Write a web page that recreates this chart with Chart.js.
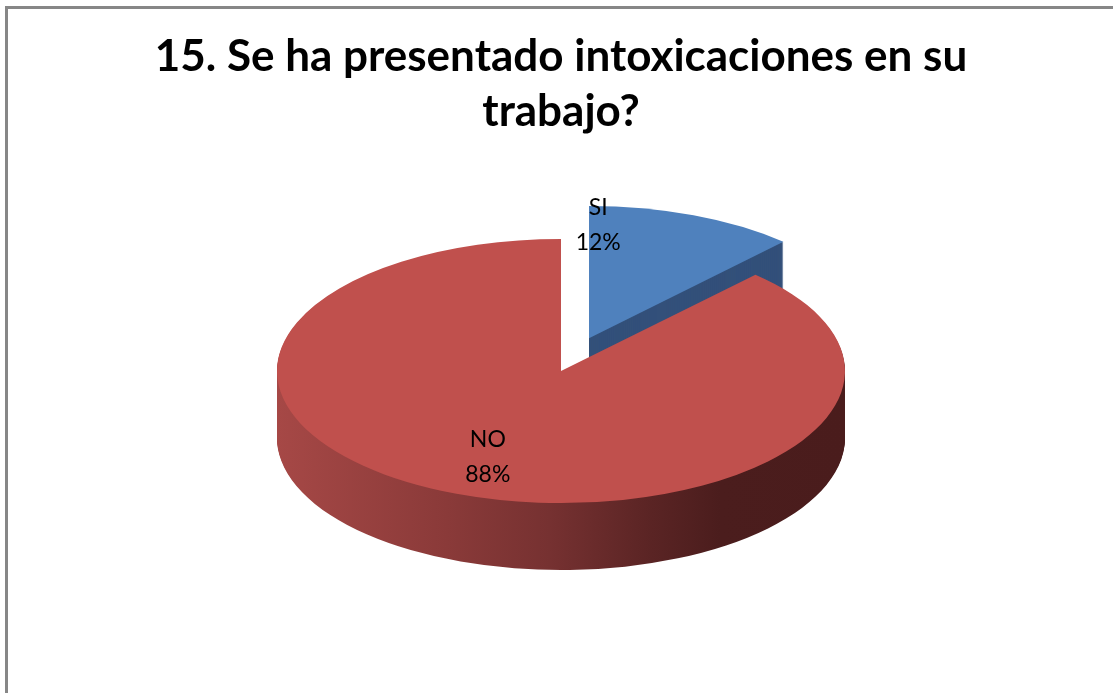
<!DOCTYPE html>
<html>
<head>
<meta charset="utf-8">
<title>Intoxicaciones</title>
<script src="https://cdn.jsdelivr.net/npm/chart.js@4.4.0/dist/chart.umd.min.js"></script>
<style>
	html, body { margin: 0; padding: 0; background: #fff; }
	#wrap { position: relative; width: 1113px; height: 693px; overflow: hidden; }
	#frame { position: absolute; left: 5px; top: 6px; width: 1200px; height: 800px;
		border-left: 3px solid #878787; border-top: 3px solid #878787; }
	#pieChart { position: absolute; left: 0; top: 0; }
</style>
</head>
<body>
<div id="wrap">
	<div id="frame"></div>
	<canvas id="pieChart" width="1113" height="693"></canvas>
</div>
<script>
var categories = ['SI', 'NO'];
var percents = [12, 88];
var titleLines = ['15. Se ha presentado intoxicaciones en su', 'trabajo?'];

var topColors = ['#4f81bd', '#c0504d'];
var sideColors = ['#33507a', null];

// fake 3d look: squash the pie, stack darker copies under it
var pie3d = {
	id : 'pie3d',
	beforeDatasetsDraw : function(chart, args, opts) {
		var ctx = chart.ctx;
		var arcs = chart.getDatasetMeta(0).data;

		function project(arc, i, d) {
			var mid = (arc.startAngle + arc.endAngle) / 2;
			var ex = Math.cos(mid) * opts.explode[i];
			var ey = Math.sin(mid) * opts.explode[i];
			ctx.translate(0, arc.y - opts.lift + d);
			ctx.scale(1, opts.tilt);
			ctx.translate(ex, ey - arc.y);
		}

		function sideFill(arc, i) {
			if (sideColors[i]) {
				return sideColors[i];
			}
			var r = arc.outerRadius;
			var g = ctx.createLinearGradient(arc.x - r, 0, arc.x + r, 0);
			g.addColorStop(0, '#a64846');
			g.addColorStop(0.3, '#8a3a39');
			g.addColorStop(0.48, '#763131');
			g.addColorStop(0.66, '#5a2424');
			g.addColorStop(0.78, '#4b1d1d');
			g.addColorStop(1, '#4a1c1c');
			return g;
		}

		for (var d = opts.depth; d >= 1; d--) {
			arcs.forEach(function(arc, i) {
				ctx.save();
				project(arc, i, d);
				ctx.beginPath();
				ctx.moveTo(arc.x, arc.y);
				ctx.arc(arc.x, arc.y, arc.outerRadius, arc.startAngle, arc.endAngle);
				ctx.closePath();
				ctx.fillStyle = sideFill(arc, i);
				ctx.fill();
				ctx.restore();
			});
		}

		arcs.forEach(function(arc, i) {
			ctx.save();
			project(arc, i, 0);
			arc.draw(ctx);
			ctx.restore();
		});
		return false;
	},
	afterDraw : function(chart, args, opts) {
		var ctx = chart.ctx;
		var arcs = chart.getDatasetMeta(0).data;
		ctx.save();
		ctx.font = opts.labelFont;
		ctx.fillStyle = '#000';
		ctx.textAlign = 'center';
		ctx.textBaseline = 'middle';
		arcs.forEach(function(arc, i) {
			var place = opts.labelPlace[i];
			var mid = (arc.startAngle + arc.endAngle) / 2;
			var a = arc.startAngle + (arc.endAngle - arc.startAngle) * place.along;
			var ux = Math.cos(mid) * opts.explode[i] + Math.cos(a) * arc.outerRadius * place.r;
			var uy = Math.sin(mid) * opts.explode[i] + Math.sin(a) * arc.outerRadius * place.r;
			var x = arc.x + ux;
			var y = arc.y - opts.lift + uy * opts.tilt;
			ctx.fillText(chart.data.labels[i], x, y - opts.labelGap / 2);
			ctx.fillText(chart.data.datasets[0].data[i] + '%', x, y + opts.labelGap / 2);
		});
		ctx.restore();
	}
};

var pieChart = new Chart(document.getElementById('pieChart'), {
	type : 'pie',
	data : {
		labels : categories,
		datasets : [ {
			data : percents,
			backgroundColor : topColors,
			borderWidth : 0
		} ]
	},
	options : {
		responsive : false,
		animation : false,
		events : [],
		layout : {
			padding : { left : 9, right : 0, top : 0, bottom : 0 }
		},
		plugins : {
			legend : { display : false },
			tooltip : { enabled : false },
			title : {
				display : true,
				text : titleLines,
				color : '#000',
				font : { family : 'Lato', size : 44, weight : 'bold', lineHeight : '55px' },
				padding : { top : 29, bottom : -14 }
			},
			pie3d : {
				tilt : 0.465,
				depth : 67,
				lift : 38,
				explode : [ 76, 0 ],
				labelFont : '23px Lato',
				labelGap : 35,
				labelPlace : [ { along : 0.05, r : 0.86 }, { along : 0.5, r : 0.7 } ]
			}
		}
	},
	plugins : [ pie3d ]
});
</script>
</body>
</html>
